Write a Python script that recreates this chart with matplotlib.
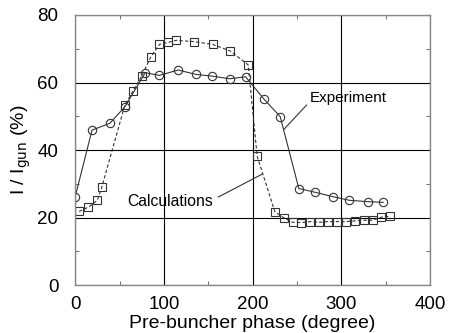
import matplotlib.pyplot as plt
from matplotlib.ticker import MultipleLocator

plt.rcParams['font.family'] = ['Liberation Sans', 'DejaVu Sans']

# experiment (circles)
exp_phase = [0, 19, 39, 56, 79, 95, 116, 136, 154, 174, 192, 213, 231,
             252, 270, 290, 309, 330, 347]
exp_ratio = [26.1, 45.9, 47.9, 52.8, 62.9, 62.1, 63.7, 62.4, 61.9, 61.1, 61.7,
             55.0, 49.9, 28.6, 27.5, 26.2, 25.1, 24.7, 24.5]

# calculations (squares)
calc_phase = [4.5, 15, 25, 30, 56, 65, 75, 85, 95, 105, 114, 134, 155, 175,
              195, 205, 225, 235, 245, 255, 265, 275, 285, 295, 305, 315,
              325, 335, 345, 355]
calc_ratio = [21.8, 23.1, 25.1, 29.0, 53.3, 57.4, 61.9, 67.5, 71.3, 71.9, 72.5,
              72.1, 71.3, 69.3, 65.2, 38.2, 21.7, 19.9, 18.6, 18.5, 18.8, 18.6,
              18.8, 18.8, 18.8, 19.0, 19.2, 19.2, 20.1, 20.4]

fig = plt.figure(figsize=(4.5, 3.33), dpi=100)
ax = fig.add_axes([0.167, 0.144, 0.789, 0.811])

ax.plot(exp_phase, exp_ratio, '-', color='#333333', lw=0.8,
        marker='o', ms=6, mfc='none', mec='#333333', mew=0.8)
ax.plot(calc_phase, calc_ratio, '--', color='#333333', lw=0.8, dashes=(3, 2),
        marker='s', ms=5.5, mfc='none', mec='#333333', mew=0.8)

ax.set_xlim(0, 400)
ax.set_ylim(0, 80)
ax.xaxis.set_major_locator(MultipleLocator(100))
ax.xaxis.set_minor_locator(MultipleLocator(50))
ax.yaxis.set_major_locator(MultipleLocator(20))
ax.yaxis.set_minor_locator(MultipleLocator(10))
ax.grid(True, which='major', color='black', lw=0.8)
ax.tick_params(which='both', direction='in', top=True, right=True,
               labelsize=13.5, color='#555555')
ax.tick_params(which='major', length=0, pad=8)
ax.tick_params(axis='y', which='major', pad=12)
ax.tick_params(which='minor', length=3)
for s in ax.spines.values():
    s.set_color('#888888')
    s.set_linewidth(1)

ax.set_xlabel('Pre-buncher phase (degree)', fontsize=14, labelpad=1)
ax.set_ylabel(r'I / I$_{\rm gun}$ (%)', fontsize=14, labelpad=3)

ax.annotate('Experiment', xy=(235.5, 46.2), xytext=(264, 55.5),
            fontsize=11, va='center', ha='left',
            arrowprops=dict(arrowstyle='-', color='#333333', lw=0.8,
                            shrinkA=0, shrinkB=0, relpos=(0, 0.2)))
ax.annotate('Calculations', xy=(211, 32.9), xytext=(107, 24.8),
            fontsize=11.3, va='center', ha='center',
            arrowprops=dict(arrowstyle='-', color='#333333', lw=0.8,
                            shrinkA=2, shrinkB=0, relpos=(1, 0.6)))

fig.savefig('out.png', dpi=100)
